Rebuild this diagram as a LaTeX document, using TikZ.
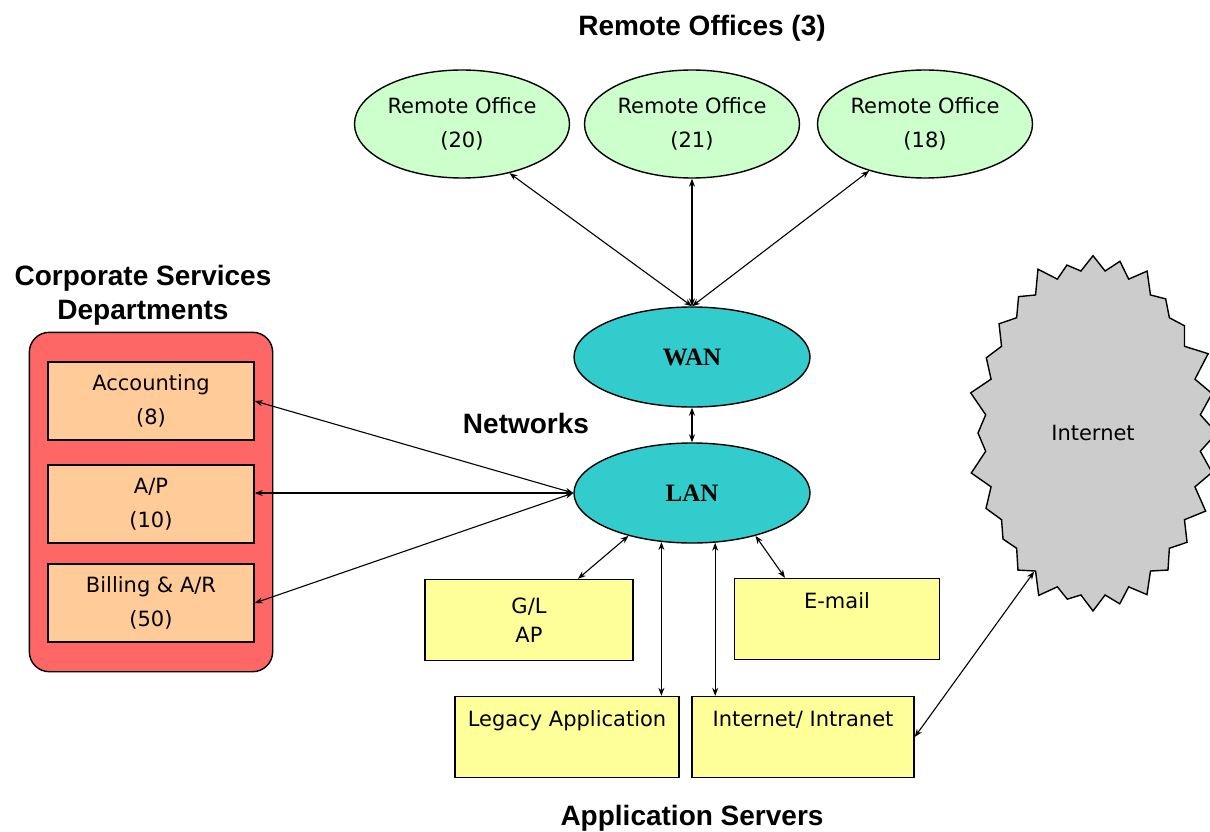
\documentclass[tikz,border=0pt]{standalone}
\usepackage{fontspec}
\setmainfont{Liberation Sans}
\newfontfamily\pixfont{DejaVu Sans}
\newfontfamily\slabfont{Liberation Serif}
\usepackage{xcolor}
\usetikzlibrary{
  arrows.meta,
  shapes.geometric,
  shapes.symbols,
  fit,
  backgrounds}
\definecolor{officegreen}{HTML}{CCFFCC}
\definecolor{netcyan}{HTML}{33CCCC}
\definecolor{deptred}{HTML}{FF6666}
\definecolor{deptorange}{HTML}{FFCC99}
\definecolor{srvyellow}{HTML}{FFFF99}
\definecolor{cloudgrey}{HTML}{CCCCCC}
\tikzset{every picture/.style={font issue=\pixfont\fontsize{21}{34}},
         font issue/.style={execute at begin picture={#1\selectfont}}
        }
\tikzset{
  office/.style={ellipse, draw, line width=1.4pt, fill=officegreen, inner sep=0pt,
    minimum width=215pt, minimum height=108pt, align=center},
  network/.style={ellipse, draw, line width=1.4pt, fill=netcyan, inner sep=0pt,
    minimum width=236pt, minimum height=100pt, font=\slabfont\bfseries\fontsize{25}{30}\selectfont},
  dept/.style={draw, line width=1.4pt, fill=deptorange, inner sep=0pt,
    minimum width=206pt, minimum height=78pt, align=center},
  server/.style={draw, line width=1.4pt, fill=srvyellow, inner sep=0pt, minimum width=#1},
  topline/.style={text height=30pt, text depth=51pt},
  heading/.style={font=\rmfamily\bfseries\fontsize{28}{34}\selectfont, align=center},
  link/.style={{Stealth[length=8pt,width=6pt]}-{Stealth[length=8pt,width=6pt]}, line width=1.1pt}
}

\begin{document}
\begin{tikzpicture}[x=1pt,y=-1pt]
\useasboundingbox (0,0) rectangle (1210,832);
\clip (0,0) rectangle (1210,832);
% headings
\node[heading] at (702,28)(rtitle){Remote Offices (3)};
\node[heading] at (143,295)(ctitle){Corporate Services\\Departments};
\node[heading] at (526,423)(ntitle){Networks};
\node[heading] at (692,818)(atitle){Application Servers};
% remote offices
\node[office] at (462,124)(ro1){Remote Office\\(20)};
\node[office] at (692,124)(ro2){Remote Office\\(21)};
\node[office] at (925,124)(ro3){Remote Office\\(18)};
% networks
\node[network] at (692,357)(wan){WAN};
\node[network] at (692,493)(lan){LAN};
% departments
\node[dept] at (151,401)(acc){Accounting\\(8)};
\node[dept] at (151,504)(ap){A/P\\(10)};
\node[dept] at (151,603)(bill){Billing \& A/R\\(50)};
\begin{scope}[on background layer]
\node[draw, line width=1.4pt, fill=deptred, rounded corners=20pt, fit=(acc)(bill),
  inner xsep=18pt, inner ysep=29pt](corp){};
\end{scope}
% application servers
\node[server=208pt, minimum height=81pt, align=center, font=\pixfont\fontsize{21}{29}\selectfont]
  at (529,620)(gl){G/L\\AP};
\node[server=205pt, topline] at (837,619)(email){E-mail};
\node[server=224pt, topline] at (567,737)(legacy){Legacy Application};
\node[server=222pt, topline] at (803,737)(intra){Internet/ Intranet};
% internet
\node[starburst, starburst points=28, starburst point height=20pt, draw, line width=1.4pt,
  fill=cloudgrey, inner sep=0pt, minimum width=256pt, minimum height=366pt]
  at (1093,433)(inet){Internet};
% links
\draw[link] (ro1.-46) -- (wan.north);
\draw[link] (ro2.south) -- (wan.north);
\draw[link] (ro3.-140) -- (wan.north);
\draw[link] (wan.south) -- (lan.north);
\draw[link] (acc.east) -- (lan.west);
\draw[link] (ap.east |- lan.west) -- (lan.west);
\draw[link] (bill.east) -- (lan.west);
\draw[link] (lan.-146) -- ([xshift=49pt]gl.north);
\draw[link] (lan.-122) -- (lan.-122 |- legacy.north);
\draw[link] (lan.-65) -- (lan.-65 |- intra.north);
\draw[link] (lan.-34) -- ([xshift=-52pt]email.north);
\draw[link] (intra.east) -- (inet.-113);
\end{tikzpicture}
\end{document}
